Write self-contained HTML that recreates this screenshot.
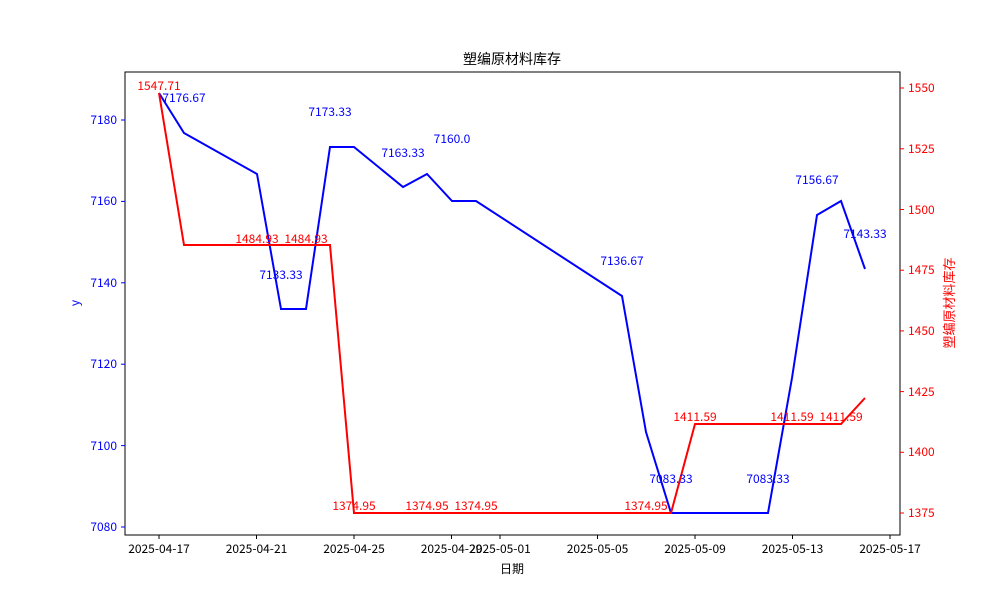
<!DOCTYPE html><html><head><meta charset="utf-8"><style>body{margin:0;background:#fff}text{font-family:"WenQuanYi Zen Hei","Noto Sans CJK SC",sans-serif;font-size:12px}</style></head><body>
<svg width="1000" height="600" xmlns="http://www.w3.org/2000/svg">
<rect width="1000" height="600" fill="#fff"/>
<text x="512" y="64" text-anchor="middle" style="font-size:14px">塑编原材料库存</text>
<rect x="125" y="72" width="775" height="463" fill="none" stroke="#000" stroke-width="1"/>
<g stroke="#00f" fill="#00f" text-anchor="end">
<line x1="121" x2="125" y1="527" y2="527"/><line x1="121" x2="125" y1="445.6" y2="445.6"/><line x1="121" x2="125" y1="364.2" y2="364.2"/><line x1="121" x2="125" y1="282.8" y2="282.8"/><line x1="121" x2="125" y1="201.4" y2="201.4"/><line x1="121" x2="125" y1="120" y2="120"/>
<g stroke="none"><text x="117" y="531">7080</text><text x="117" y="450">7100</text><text x="117" y="368">7120</text><text x="117" y="287">7140</text><text x="117" y="205">7160</text><text x="117" y="124">7180</text></g>
</g>
<text transform="translate(79,303) rotate(-90)" text-anchor="middle" fill="#00f">y</text>
<g stroke="#f00" fill="#f00">
<line x1="900" x2="904" y1="513" y2="513"/><line x1="900" x2="904" y1="452.3" y2="452.3"/><line x1="900" x2="904" y1="391.6" y2="391.6"/><line x1="900" x2="904" y1="330.9" y2="330.9"/><line x1="900" x2="904" y1="270.2" y2="270.2"/><line x1="900" x2="904" y1="209.5" y2="209.5"/><line x1="900" x2="904" y1="148.8" y2="148.8"/><line x1="900" x2="904" y1="88" y2="88"/>
<g stroke="none"><text x="908" y="517">1375</text><text x="908" y="456">1400</text><text x="908" y="396">1425</text><text x="908" y="335">1450</text><text x="908" y="274">1475</text><text x="908" y="214">1500</text><text x="908" y="153">1525</text><text x="908" y="92">1550</text></g>
</g>
<text transform="translate(954,303) rotate(-90)" text-anchor="middle" fill="#f00" style="font-size:13px">塑编原材料库存</text>
<g stroke="#000" text-anchor="middle">
<line x1="159" x2="159" y1="535" y2="539"/><line x1="256.5" x2="256.5" y1="535" y2="539"/><line x1="354" x2="354" y1="535" y2="539"/><line x1="451.5" x2="451.5" y1="535" y2="539"/><line x1="500" x2="500" y1="535" y2="539"/><line x1="597.5" x2="597.5" y1="535" y2="539"/><line x1="695" x2="695" y1="535" y2="539"/><line x1="792.5" x2="792.5" y1="535" y2="539"/><line x1="890" x2="890" y1="535" y2="539"/>
<g stroke="none"><text x="159" y="553">2025-04-17</text><text x="256.5" y="553">2025-04-21</text><text x="354" y="553">2025-04-25</text><text x="451.5" y="553">2025-04-29</text><text x="500" y="553">2025-05-01</text><text x="597.5" y="553">2025-05-05</text><text x="695" y="553">2025-05-09</text><text x="792.5" y="553">2025-05-13</text><text x="890" y="553">2025-05-17</text></g>
</g>
<text x="512" y="573" text-anchor="middle">日期</text>
<polyline fill="none" stroke="#00f" stroke-width="2" points="159,93 184,133 257,174 281,309 306,309 330,147 354,147 403,187 427,174 452,201 476,201 622,296 646,432 671,513 695,513 768,513 792,378 817,215 841,201 865,269"/>
<polyline fill="none" stroke="#f00" stroke-width="2" points="159,93 184,245 330,245 354,513 671,513 695,424 841,424 865,398"/>
<g fill="#00f" text-anchor="middle">
<text x="184" y="102">7176.67</text><text x="330" y="116">7173.33</text><text x="403" y="157">7163.33</text><text x="452" y="143">7160.0</text><text x="281" y="279">7133.33</text><text x="622" y="265">7136.67</text><text x="671" y="483">7083.33</text><text x="768" y="483">7083.33</text><text x="817" y="184">7156.67</text><text x="865" y="238">7143.33</text>
</g>
<g fill="#f00" text-anchor="middle">
<text x="159" y="90">1547.71</text><text x="257" y="243">1484.93</text><text x="306" y="243">1484.93</text><text x="354" y="510">1374.95</text><text x="427" y="510">1374.95</text><text x="476" y="510">1374.95</text><text x="646" y="510">1374.95</text><text x="695" y="421">1411.59</text><text x="792" y="421">1411.59</text><text x="841" y="421">1411.59</text>
</g>
</svg></body></html>
